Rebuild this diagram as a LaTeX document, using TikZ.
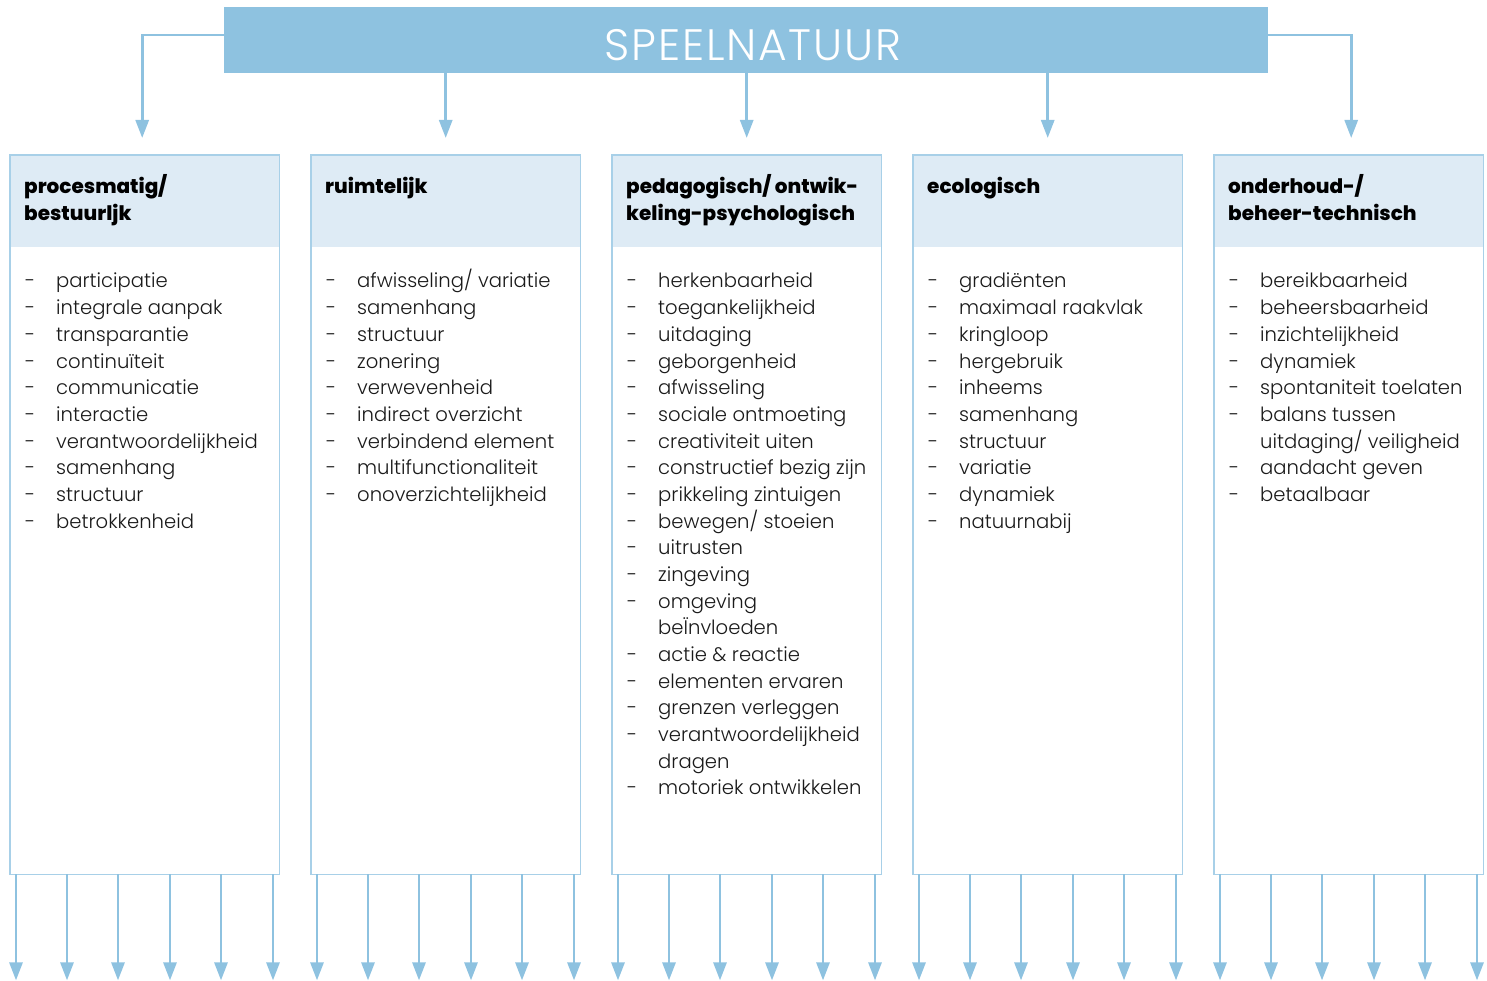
\documentclass[tikz,border=0pt]{standalone}
\usepackage{fontspec}
\setmainfont{Poppins}
\newfontfamily\lightf{Poppins Light}
\newfontfamily\titlef{Poppins Light}[LetterSpace=4]
\newfontfamily\heavyf{Poppins ExtraBold}
\usetikzlibrary{arrows.meta}
\definecolor{barblue}{HTML}{8EC2E0}
\definecolor{headblue}{HTML}{DEEBF5}
\definecolor{edgeblue}{HTML}{A8D0E8}
\definecolor{txt}{HTML}{1A1A1A}
\newcommand\itemlist[1]{\begin{tabular}[t]{@{}p{31pt}@{}l@{}}#1\end{tabular}}
\newcommand\headlist[1]{\begin{tabular}[t]{@{}l@{}}#1\end{tabular}}
\tikzset{
  colbox/.style={minimum width=269pt, minimum height=719pt, inner sep=0pt, anchor=north west},
  link/.style={draw=barblue, line width=2.8pt, -{Triangle[width=13pt,length=18pt]}},
  headtxt/.style={anchor=base west, inner sep=0pt, text=black,
    font=\heavyf\fontsize{20}{27}\selectfont},
  bodytxt/.style={anchor=base west, inner sep=0pt, text=txt,
    font=\lightf\fontsize{19.6}{26.68}\selectfont},
}
\begin{document}
\begin{tikzpicture}[x=1pt,y=-1pt]
\useasboundingbox (0,0) rectangle (1487,981);
% title bar
\node[fill=barblue, minimum width=1044pt, minimum height=66pt, inner sep=0pt] (bar) at (746,40) {};
\node[text=white, inner sep=0pt, font=\titlef\fontsize{44}{44}\selectfont] (title) at (753,45) {SPEELNATUUR};
% columns
\foreach \i in {1,...,5}{
  \pgfmathsetmacro\L{10+301*(\i-1)}
  \node[colbox] (c\i) at (\L,155) {};
  \fill[headblue] (c\i.north west) rectangle ([yshift=-92pt]c\i.north east);
  \draw[edgeblue, line width=1.8pt] (c\i.north west) rectangle (c\i.south east);
  \foreach \dx in {6,57,108,160,211,263}{
    \draw[link] ([xshift=\dx pt]c\i.south west) -- ++(0,106);
  }
}
% top connectors
\draw[link, shorten >=17pt] ([yshift=5pt]bar.west) -| ([xshift=-2.5pt]c1.north);
\draw[link, shorten >=17pt] (bar.south -| c2.north) -- (c2.north);
\draw[link, shorten >=17pt] (bar.south -| c3.north) -- (c3.north);
\draw[link, shorten >=17pt] (bar.south -| c4.north) -- (c4.north);
\draw[link, shorten >=17pt] ([yshift=5pt]bar.east) -| ([xshift=2.5pt]c5.north);
% headers
\node[headtxt] (h1) at ([xshift=14pt]c1.north west |- 0,194) {\headlist{procesmatig/\\bestuurljk}};
\node[headtxt] (h2) at ([xshift=14pt]c2.north west |- 0,194) {\headlist{ruimtelijk}};
\node[headtxt] (h3) at ([xshift=14pt]c3.north west |- 0,194) {\headlist{pedagogisch/ ontwik-\\keling-psychologisch}};
\node[headtxt] (h4) at ([xshift=14pt]c4.north west |- 0,194) {\headlist{ecologisch}};
\node[headtxt] (h5) at ([xshift=14pt]c5.north west |- 0,194) {\headlist{onderhoud-/\\beheer-technisch}};
% bodies
\node[bodytxt] (b1) at ([xshift=15pt]c1.north west |- 0,288) {\itemlist{
- & participatie\\
- & integrale aanpak\\
- & transparantie\\
- & continuïteit\\
- & communicatie\\
- & interactie\\
- & verantwoordelijkheid\\
- & samenhang\\
- & structuur\\
- & betrokkenheid}};
\node[bodytxt] (b2) at ([xshift=15pt]c2.north west |- 0,288) {\itemlist{
- & afwisseling/ variatie\\
- & samenhang\\
- & structuur\\
- & zonering\\
- & verwevenheid\\
- & indirect overzicht\\
- & verbindend element\\
- & multifunctionaliteit\\
- & onoverzichtelijkheid}};
\node[bodytxt] (b3) at ([xshift=15pt]c3.north west |- 0,288) {\itemlist{
- & herkenbaarheid\\
- & toegankelijkheid\\
- & uitdaging\\
- & geborgenheid\\
- & afwisseling\\
- & sociale ontmoeting\\
- & creativiteit uiten\\
- & constructief bezig zijn\\
- & prikkeling zintuigen\\
- & bewegen/ stoeien\\
- & uitrusten\\
- & zingeving\\
- & omgeving\\
  & beÏnvloeden\\
- & actie \& reactie\\
- & elementen ervaren\\
- & grenzen verleggen\\
- & verantwoordelijkheid\\
  & dragen\\
- & motoriek ontwikkelen}};
\node[bodytxt] (b4) at ([xshift=15pt]c4.north west |- 0,288) {\itemlist{
- & gradiënten\\
- & maximaal raakvlak\\
- & kringloop\\
- & hergebruik\\
- & inheems\\
- & samenhang\\
- & structuur\\
- & variatie\\
- & dynamiek\\
- & natuurnabij}};
\node[bodytxt] (b5) at ([xshift=15pt]c5.north west |- 0,288) {\itemlist{
- & bereikbaarheid\\
- & beheersbaarheid\\
- & inzichtelijkheid\\
- & dynamiek\\
- & spontaniteit toelaten\\
- & balans tussen\\
  & uitdaging/ veiligheid\\
- & aandacht geven\\
- & betaalbaar}};
\end{tikzpicture}
\end{document}
